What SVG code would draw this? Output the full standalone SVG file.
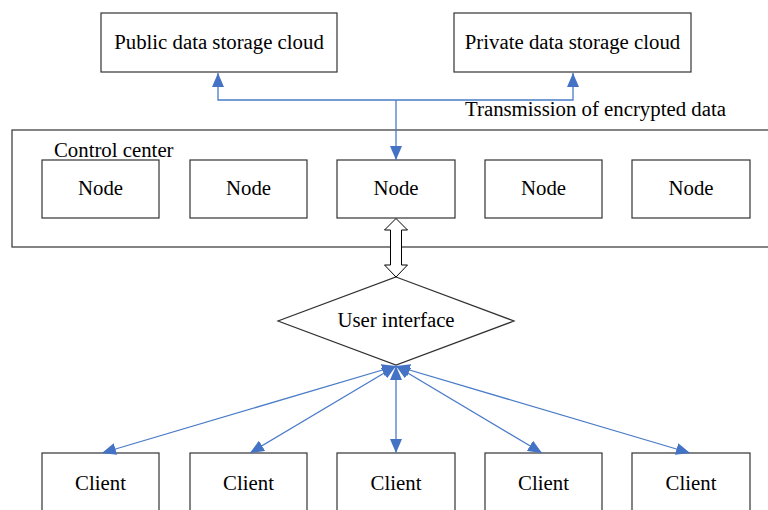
<svg xmlns="http://www.w3.org/2000/svg" width="768" height="510" viewBox="0 0 768 510">
<style>
.box{fill:#fff;stroke:#333;stroke-width:1.2}
.t{font-family:"Liberation Serif","Times New Roman",serif;font-size:20.8px;fill:#000}
.c{text-anchor:middle}
.ln{fill:none;stroke:#4a7cc7;stroke-width:1.3}
</style>
<defs>
<marker id="ah" viewBox="0 0 14 12" refX="14" refY="6" markerWidth="14" markerHeight="12" markerUnits="userSpaceOnUse" orient="auto-start-reverse">
<path d="M0,0 L14,6 L0,12 z" fill="#4472c4"/>
</marker>
</defs>
<rect width="768" height="510" fill="#fff"/>
<g id="control-center">
<rect class="box" x="12" y="130" width="760" height="117"/>
<text class="t" x="54" y="157">Control center</text>
</g>
<g id="public-cloud">
<rect class="box" x="101" y="13" width="236" height="59"/>
<text class="t c" x="219" y="49">Public data storage cloud</text>
</g>
<g id="private-cloud">
<rect class="box" x="454" y="13" width="237" height="59"/>
<text class="t c" x="572.5" y="49">Private data storage cloud</text>
</g>
<g id="node1"><rect class="box" x="42" y="160" width="117" height="58"/><text class="t c" x="100.5" y="195">Node</text></g>
<g id="node2"><rect class="box" x="190" y="160" width="117" height="58"/><text class="t c" x="248.5" y="195">Node</text></g>
<g id="node3"><rect class="box" x="337" y="160" width="118" height="58"/><text class="t c" x="396" y="195">Node</text></g>
<g id="node4"><rect class="box" x="485" y="160" width="117" height="58"/><text class="t c" x="543.5" y="195">Node</text></g>
<g id="node5"><rect class="box" x="632" y="160" width="118" height="58"/><text class="t c" x="691" y="195">Node</text></g>
<g id="user-interface">
<polygon class="box" points="396,277 514,321 396,365 278,321"/>
<text class="t c" x="396" y="327">User interface</text>
</g>
<g id="client1"><rect class="box" x="42" y="453" width="117" height="70"/><text class="t c" x="100.5" y="490">Client</text></g>
<g id="client2"><rect class="box" x="190" y="453" width="117" height="70"/><text class="t c" x="248.5" y="490">Client</text></g>
<g id="client3"><rect class="box" x="337" y="453" width="118" height="70"/><text class="t c" x="396" y="490">Client</text></g>
<g id="client4"><rect class="box" x="485" y="453" width="117" height="70"/><text class="t c" x="543.5" y="490">Client</text></g>
<g id="client5"><rect class="box" x="632" y="453" width="118" height="70"/><text class="t c" x="691" y="490">Client</text></g>
<g id="connectors">
<polyline class="ln" points="396,100 218,100 218,73" marker-end="url(#ah)"/>
<polyline class="ln" points="396,100 573,100 573,73" marker-end="url(#ah)"/>
<line class="ln" x1="396" y1="100" x2="396" y2="160" marker-end="url(#ah)"/>
<text class="t" x="465" y="116">Transmission of encrypted data</text>
<path d="M396,218.5 L407.5,230 L401.5,230 L401.5,265 L407.5,265 L396,277 L384.5,265 L390.5,265 L390.5,230 L384.5,230 Z" fill="#fff" stroke="#000" stroke-width="1"/>
<line class="ln" x1="396" y1="366" x2="102" y2="453" marker-start="url(#ah)" marker-end="url(#ah)"/>
<line class="ln" x1="396" y1="366" x2="250" y2="453" marker-start="url(#ah)" marker-end="url(#ah)"/>
<line class="ln" x1="396" y1="366" x2="396" y2="453" marker-start="url(#ah)" marker-end="url(#ah)"/>
<line class="ln" x1="396" y1="366" x2="542" y2="453" marker-start="url(#ah)" marker-end="url(#ah)"/>
<line class="ln" x1="396" y1="366" x2="690" y2="453" marker-start="url(#ah)" marker-end="url(#ah)"/>
</g>
</svg>
